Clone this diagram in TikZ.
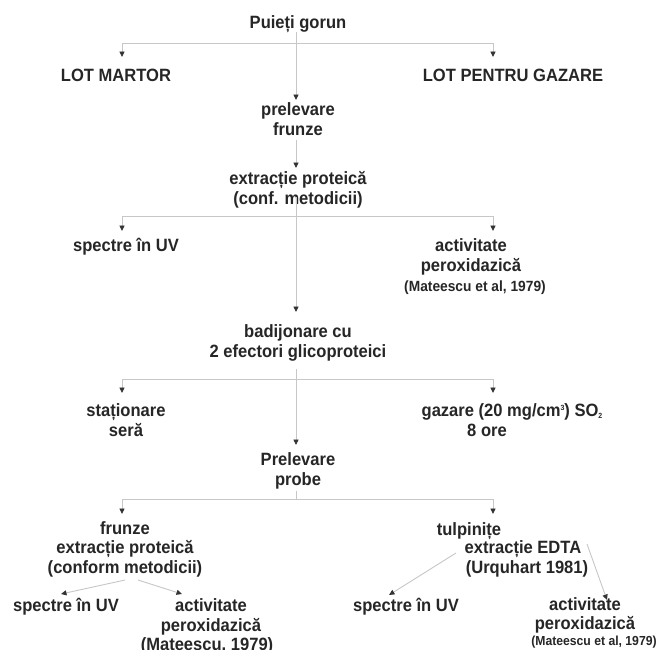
\documentclass[tikz,border=0pt]{standalone}
\usepackage{fontspec}
\setmainfont{Liberation Sans}[FakeStretch=0.93]
\usetikzlibrary{arrows.meta}
\newcommand{\supthree}{\raisebox{6pt}{\fontsize{7.5}{7.5}\selectfont 3}}
\newcommand{\subtwo}{\raisebox{-1.5pt}{\fontsize{7.5}{7.5}\selectfont 2}}
\begin{document}
\begin{tikzpicture}[x=1pt,y=-1pt,
  lbl/.style={font=\bfseries\fontsize{17.8}{19.5}\selectfont, text=black!85, inner sep=0pt, align=center},
  refa/.style={font=\bfseries\fontsize{14.8}{16}\selectfont, text=black!85, inner sep=0pt},
  refb/.style={font=\bfseries\fontsize{13.1}{14}\selectfont, text=black!85, inner sep=0pt},
  plain/.style={draw=black!22, line width=0.9pt},
  conn/.style={plain, -{Triangle[length=5.5pt,width=5pt,fill=black!80,color=black!80]}}]
\fill[white] (0,0) rectangle (659,649);
\useasboundingbox (0,0) rectangle (659,649);
% nodes
\node[lbl] (top) at (298,24) {Puieți gorun};
\node[lbl] (lotm) at (116,75) {LOT MARTOR};
\node[lbl] (lotg) at (513,75) {LOT PENTRU GAZARE};
\node[lbl] (prel) at (298,119) {prelevare\\frunze};
\node[lbl] (extr) at (298,190) {extracție proteică\\(conf. metodicii)};
\node[lbl] (spec1) at (126,247) {spectre în UV};
\node[lbl] (act1) at (471,257) {activitate\\peroxidazică};
\node[refa] (ref1) at (475,288) {(Mateescu et al, 1979)};
\node[lbl] (bad) at (298,343) {badijonare cu\\2 efectori glicoproteici};
\node[lbl] (stat) at (126,420) {staționare\\seră};
\node[lbl] (gaz) at (512,412) {gazare (20 mg/cm\supthree) SO\subtwo};
\node[lbl] (ore) at (487,430) {8 ore};
\node[lbl] (prob) at (298,471) {Prelevare\\probe};
\node[lbl] (frz) at (125,549) {frunze\\extracție proteică\\(conform metodicii)};
\node[lbl] (tulp) at (469,531) {tulpinițe};
\node[lbl] (edta) at (523,549) {extracție EDTA};
\node[lbl] (urq) at (527,569) {(Urquhart 1981)};
\node[lbl] (spec2) at (66,607) {spectre în UV};
\node[lbl] (act2) at (211,617) {activitate\\peroxidazică};
\node[lbl] (ref2) at (207,646) {(Mateescu, 1979)};
\node[lbl] (spec3) at (406,607) {spectre în UV};
\node[lbl] (act3) at (585,615.5) {activitate\\peroxidazică};
\node[refb] (ref3) at (594,642) {(Mateescu et al, 1979)};
% junction and tip coordinates
\coordinate (a0) at (296,32);  \coordinate (a1) at (296,100);
\coordinate (h1L) at (122,43); \coordinate (h1R) at (493,43);
\coordinate (t1L) at (122,57); \coordinate (t1R) at (493,57);
\coordinate (b0) at (296,140); \coordinate (b1) at (296,168);
\coordinate (c0) at (296,197); \coordinate (c1) at (296,312);
\coordinate (h2L) at (122,216); \coordinate (h2R) at (493,216);
\coordinate (t2L) at (122,231); \coordinate (t2R) at (493,231);
\coordinate (d0) at (296,369); \coordinate (d1) at (296,445);
\coordinate (h3L) at (122,379); \coordinate (h3R) at (493,379);
\coordinate (t3L) at (122,393); \coordinate (t3R) at (493,393);
\coordinate (e0) at (296,491); \coordinate (e1) at (296,499);
\coordinate (h4L) at (122,499); \coordinate (h4R) at (493,499);
\coordinate (t4L) at (122,514); \coordinate (t4R) at (493,514);
\coordinate (f0) at (125,580); \coordinate (f1) at (61,594);
\coordinate (g0) at (138,580); \coordinate (g1) at (182,594);
\coordinate (k0) at (456,553); \coordinate (k1) at (389,595);
\coordinate (m0) at (587,544); \coordinate (m1) at (607,600);
% connectors
\draw[conn] (a0) -- (a1);
\draw[plain] (h1L) -- (h1R);
\draw[conn] (h1L) -- (t1L);
\draw[conn] (h1R) -- (t1R);
\draw[conn] (b0) -- (b1);
\draw[conn] (c0) -- (c1);
\draw[plain] (h2L) -- (h2R);
\draw[conn] (h2L) -- (t2L);
\draw[conn] (h2R) -- (t2R);
\draw[conn] (d0) -- (d1);
\draw[plain] (h3L) -- (h3R);
\draw[conn] (h3L) -- (t3L);
\draw[conn] (h3R) -- (t3R);
\draw[plain] (e0) -- (e1);
\draw[plain] (h4L) -- (h4R);
\draw[conn] (h4L) -- (t4L);
\draw[conn] (h4R) -- (t4R);
\draw[conn] (f0) -- (f1);
\draw[conn] (g0) -- (g1);
\draw[conn] (k0) -- (k1);
\draw[conn] (m0) -- (m1);
\end{tikzpicture}
\end{document}
